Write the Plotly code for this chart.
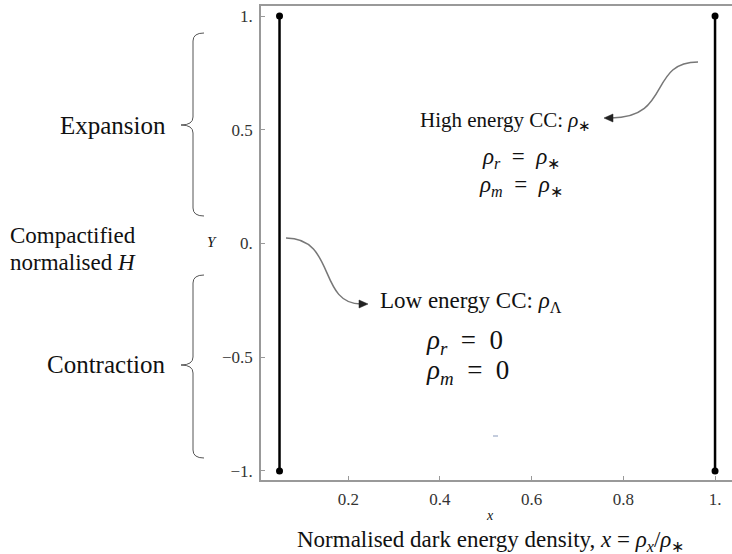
import plotly.graph_objects as go

# ---- data ----
fixed_x = [0.05, 1.0]          # x positions of the two vertical fixed-point lines
y_ends = [-1.0, 1.0]           # extent of each line
x_ticks = [0.2, 0.4, 0.6, 0.8, 1.0]
x_ticklabels = ["0.2", "0.4", "0.6", "0.8", "1."]
y_ticks = [-1.0, -0.5, 0.0, 0.5, 1.0]
y_ticklabels = ["\u22121.", "\u22120.5", "0.", "0.5", "1."]

W, H = 732, 554
L, R, T, B = 261, 0, 6, 74
PW, PH = W - L - R, H - T - B


def px(X):
    return (X - L) / PW


def py(Y):
    return (H - B - Y) / PH


SERIF = "Liberation Serif"

fig = go.Figure()
for xv in fixed_x:
    fig.add_trace(go.Scatter(
        x=[xv, xv], y=y_ends, mode="lines+markers",
        line=dict(color="black", width=2.5),
        marker=dict(color="black", size=7),
        cliponaxis=False, showlegend=False, hoverinfo="skip"))

shapes = []
grey = "#777777"


def cubic(p0, p1, p2, p3):
    return "M {},{} C {},{} {},{} {},{}".format(
        px(p0[0]), py(p0[1]), px(p1[0]), py(p1[1]),
        px(p2[0]), py(p2[1]), px(p3[0]), py(p3[1]))


shapes.append(dict(type="path", xref="paper", yref="paper",
                   path=cubic((286, 238), (336, 238), (318, 304), (361, 304)),
                   line=dict(color=grey, width=1.5)))
shapes.append(dict(type="path", xref="paper", yref="paper",
                   path=cubic((698, 62), (648, 62), (672, 118), (611, 118)),
                   line=dict(color=grey, width=1.5)))


def tri(a, b, c):
    return "M {},{} L {},{} L {},{} Z".format(
        px(a[0]), py(a[1]), px(b[0]), py(b[1]), px(c[0]), py(c[1]))


shapes.append(dict(type="path", xref="paper", yref="paper",
                   path=tri((368, 304), (359, 300), (359, 308)),
                   fillcolor="#222222", line=dict(color="#222222", width=0.5)))
shapes.append(dict(type="path", xref="paper", yref="paper",
                   path=tri((604, 118), (613, 114), (613, 122)),
                   fillcolor="#222222", line=dict(color="#222222", width=0.5)))


def brace(top, mid, bot, xv=193, xr=204, xp=181):
    pts = [
        "M {},{}".format(px(xr), py(top)),
        "Q {},{} {},{}".format(px(xv), py(top), px(xv), py(top + 8)),
        "L {},{}".format(px(xv), py(mid - 8)),
        "Q {},{} {},{}".format(px(xv), py(mid), px(xp), py(mid)),
        "Q {},{} {},{}".format(px(xv), py(mid), px(xv), py(mid + 8)),
        "L {},{}".format(px(xv), py(bot - 8)),
        "Q {},{} {},{}".format(px(xv), py(bot), px(xr), py(bot)),
    ]
    return " ".join(pts)


shapes.append(dict(type="path", xref="paper", yref="paper",
                   path=brace(33, 125, 216), line=dict(color="#555555", width=1)))
shapes.append(dict(type="path", xref="paper", yref="paper",
                   path=brace(275, 365, 458), line=dict(color="#555555", width=1)))

shapes.append(dict(type="line", xref="paper", yref="paper",
                   x0=px(493), x1=px(498), y0=py(436), y1=py(436),
                   line=dict(color="#8899bb", width=1)))

anns = []


def ann(text, X, Y, size, xanchor="center", color="#111111"):
    anns.append(dict(text=text, x=px(X), y=py(Y), xref="paper", yref="paper",
                     xanchor=xanchor, yanchor="middle", showarrow=False,
                     font=dict(family=SERIF, size=size, color=color)))


SP = "\u2002"
ann("High energy CC: <i>ρ</i><sub>∗</sub>", 418, 121, 21, "left")
ann("<i>ρ</i><sub><i>r</i></sub>" + SP + "=" + SP + "<i>ρ</i><sub>∗</sub>", 521, 158, 23)
ann("<i>ρ</i><sub><i>m</i></sub>" + SP + "=" + SP + "<i>ρ</i><sub>∗</sub>", 521, 186, 23)
ann("Low energy CC: <i>ρ</i><sub>Λ</sub>", 378, 302, 23, "left")
ann("<i>ρ</i><sub><i>r</i></sub>" + SP + "=" + SP + "0", 424, 342, 27, "left")
ann("<i>ρ</i><sub><i>m</i></sub>" + SP + "=" + SP + "0", 424, 372, 27, "left")
ann("Expansion", 168, 125, 25, "right")
ann("Contraction", 168, 364, 25, "right")
ann("Compactified", 73, 236, 23)
ann("normalised <i>H</i>", 73, 263, 23)
ann("<i>Y</i>", 212, 242, 15)
ann("<i>x</i>", 490, 515, 14)
ann("Normalised dark energy density, <i>x</i> = <i>ρ</i><sub><i>x</i></sub>/<i>ρ</i><sub>∗</sub>",
    490, 541, 23)

axis_common = dict(
    showgrid=False, zeroline=False, showline=True, linecolor="#999999",
    linewidth=1.5, ticks="inside", ticklen=4, tickcolor="#999999",
    ticklabelstandoff=3,
    tickfont=dict(family=SERIF, size=17, color="#333333"))

fig.update_layout(
    width=W, height=H,
    margin=dict(l=L, r=R, t=T, b=B),
    paper_bgcolor="white", plot_bgcolor="white",
    showlegend=False,
    shapes=shapes, annotations=anns,
    xaxis=dict(range=[0.0096, 1.037], tickvals=x_ticks, ticktext=x_ticklabels,
               mirror=True, **axis_common),
    yaxis=dict(range=[-1.04, 1.044], tickvals=y_ticks, ticktext=y_ticklabels,
               **axis_common),
)

fig.write_html("out.html")
